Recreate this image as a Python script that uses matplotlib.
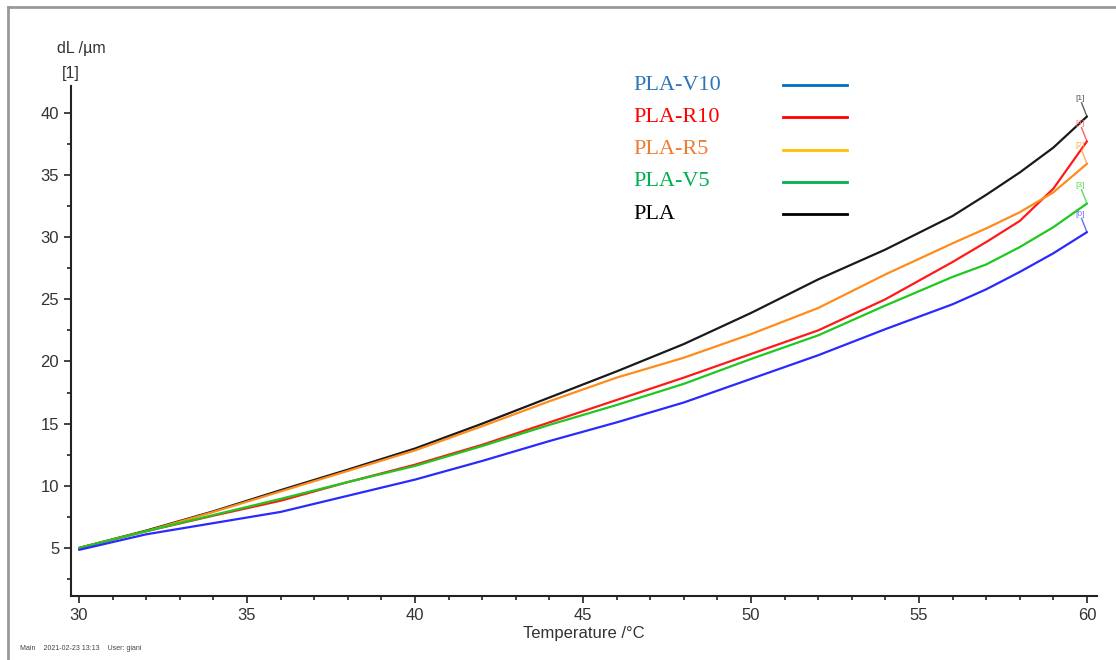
import matplotlib.pyplot as plt
from matplotlib.lines import Line2D
from matplotlib.ticker import MultipleLocator

plt.rcParams['font.family'] = ['Liberation Sans', 'DejaVu Sans']

# temperature (°C) and elongation dL (µm)
temp = [30, 32, 34, 36, 38, 40, 42, 44, 46, 48, 50, 52, 54, 56, 57, 58, 59, 60]
pla = [5.0, 6.4, 7.95, 9.65, 11.3, 13.0, 15.0, 17.1, 19.2, 21.4, 23.9, 26.6, 29.0, 31.7, 33.4, 35.2, 37.2, 39.7]
pla_r10 = [5.0, 6.35, 7.6, 8.8, 10.3, 11.7, 13.3, 15.1, 16.9, 18.7, 20.6, 22.5, 25.0, 28.0, 29.6, 31.3, 33.9, 37.7]
pla_r5 = [5.0, 6.35, 7.9, 9.55, 11.2, 12.85, 14.8, 16.8, 18.7, 20.3, 22.2, 24.3, 27.0, 29.5, 30.7, 32.0, 33.6, 35.9]
pla_v5 = [5.0, 6.35, 7.65, 8.95, 10.3, 11.6, 13.2, 14.9, 16.5, 18.2, 20.2, 22.1, 24.5, 26.8, 27.8, 29.2, 30.8, 32.7]
pla_v10 = [4.85, 6.1, 7.0, 7.9, 9.2, 10.5, 12.0, 13.6, 15.1, 16.7, 18.6, 20.5, 22.6, 24.6, 25.8, 27.2, 28.7, 30.4]

series = [pla, pla_r10, pla_r5, pla_v5, pla_v10]
curve_ids = ['[1]', '[4]', '[2]', '[3]', '[0]']
curve_colors = ['#1a1a1a', '#ff1a1a', '#ff8c1a', '#1ec81e', '#2a2aff']
id_colors = ['#555555', '#ff7070', '#ffaa55', '#55dd55', '#6f6fff']

legend_labels = ['PLA-V10', 'PLA-R10', 'PLA-R5', 'PLA-V5', 'PLA']
legend_text_colors = ['#2e75b6', '#ff0000', '#ed7d31', '#00b050', '#000000']
legend_line_colors = ['#0070c0', '#ff0000', '#ffc000', '#00b050', '#000000']

fig = plt.figure(figsize=(11.16, 6.6), dpi=100)
ax = fig.add_axes([0.0636, 0.097, 0.9194, 0.773])

for y, cid, c, ic in zip(series, curve_ids, curve_colors, id_colors):
    ax.plot(temp, y, color=c, lw=1.6, solid_capstyle='round')
    # small hook up to the curve number at the end
    ax.plot([temp[-1], temp[-1] - 0.16], [y[-1], y[-1] + 1.1], color=c, lw=1.0, alpha=0.7)
    ax.text(temp[-1] - 0.2, y[-1] + 1.15, cid, color=ic, fontsize=6, ha='center', va='bottom')

ax.set_xlim(29.76, 60.3)
ax.set_ylim(1.14, 42.17)
ax.xaxis.set_major_locator(MultipleLocator(5))
ax.xaxis.set_minor_locator(MultipleLocator(1))
ax.yaxis.set_major_locator(MultipleLocator(5))
ax.yaxis.set_minor_locator(MultipleLocator(2.5))
ax.set_yticks(range(5, 41, 5))
ax.tick_params(which='both', direction='out', colors='#222222', labelcolor='#333333', labelsize=12, width=1.2)
ax.tick_params(which='major', length=5)
ax.tick_params(which='minor', length=3)
for s in ['top', 'right']:
    ax.spines[s].set_visible(False)
for s in ['left', 'bottom']:
    ax.spines[s].set_linewidth(1.5)
    ax.spines[s].set_color('#222222')

ax.set_xlabel('Temperature /°C', fontsize=12, color='#333333', labelpad=2)
fig.text(0.073, 0.927, 'dL /µm', fontsize=11.5, color='#333333', ha='center', va='center')
fig.text(0.0636, 0.889, '[1]', fontsize=11.5, color='#333333', ha='center', va='center')
fig.text(0.018, 0.018, 'Main    2021-02-23 13:13    User: giani', fontsize=5, color='#444444', ha='left', va='center')

# pasted legend: text on the left, line on the right
for i, (lab, tc, lc) in enumerate(zip(legend_labels, legend_text_colors, legend_line_colors)):
    yy = 1 - (85 + i * 32.3) / 660
    fig.text(633 / 1116, yy, lab, fontsize=16, color=tc, family=['Liberation Serif'], ha='left', va='center')
    fig.add_artist(Line2D([783 / 1116, 847 / 1116], [yy, yy], color=lc, lw=2, transform=fig.transFigure))

# window frame
fig.add_artist(Line2D([8 / 1116, 8 / 1116], [0, 1 - 7 / 660], color='#999999', lw=2, transform=fig.transFigure))
fig.add_artist(Line2D([8 / 1116, 1], [1 - 7 / 660, 1 - 7 / 660], color='#999999', lw=2, transform=fig.transFigure))

fig.savefig('out.png', dpi=100)
